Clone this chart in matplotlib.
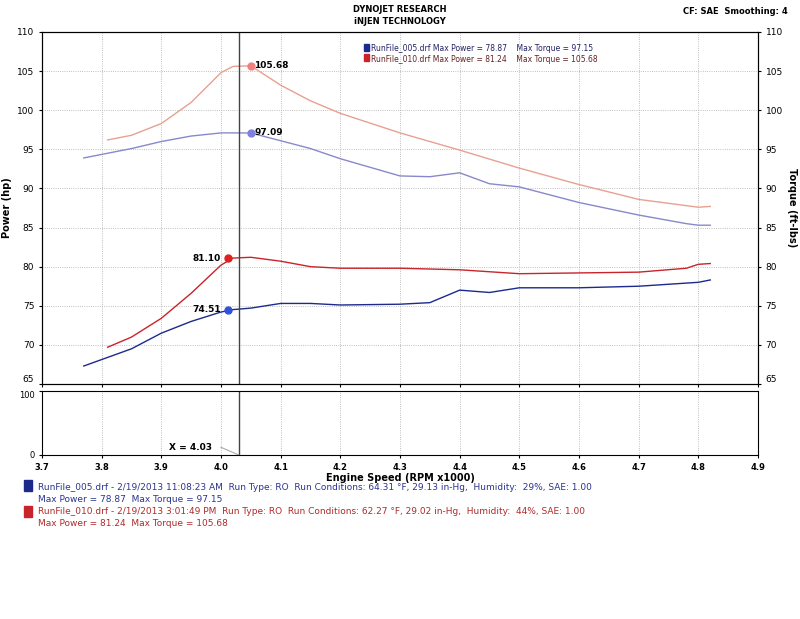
import matplotlib
matplotlib.use("Agg")
import matplotlib.pyplot as plt
import numpy as np

rpm_red = [3.81, 3.85, 3.9, 3.95, 4.0, 4.02, 4.05, 4.1, 4.15, 4.2, 4.3, 4.4, 4.5, 4.6, 4.7, 4.78, 4.8, 4.82]
tq_red = [96.2, 96.8, 98.3, 101.0, 104.8, 105.6, 105.68, 103.2, 101.2, 99.6, 97.1, 94.9, 92.6, 90.5, 88.6, 87.8, 87.6, 87.7]
hp_red = [69.7, 71.0, 73.4, 76.6, 80.2, 81.1, 81.2, 80.7, 80.0, 79.8, 79.8, 79.6, 79.1, 79.2, 79.3, 79.8, 80.3, 80.4]
rpm_blue = [3.77, 3.85, 3.9, 3.95, 4.0, 4.02, 4.05, 4.1, 4.15, 4.2, 4.3, 4.35, 4.4, 4.45, 4.5, 4.6, 4.7, 4.78, 4.8, 4.82]
tq_blue = [93.9, 95.1, 96.0, 96.7, 97.1, 97.1, 97.09, 96.1, 95.1, 93.8, 91.6, 91.5, 92.0, 90.6, 90.2, 88.2, 86.6, 85.5, 85.3, 85.3]
hp_blue = [67.3, 69.5, 71.5, 73.0, 74.2, 74.51, 74.7, 75.3, 75.3, 75.1, 75.2, 75.4, 77.0, 76.7, 77.3, 77.3, 77.5, 77.9, 78.0, 78.3]

RED = "#c8242b"; LRED = "#e8a090"; BLUE = "#1c2a8c"; LBLUE = "#8888cc"

fig = plt.figure(figsize=(8, 6.19), dpi=100)
ax = fig.add_axes([42/800, 1-384/619, 716/800, 352/619])
ax.plot(rpm_red, tq_red, color=LRED, lw=1)
ax.plot(rpm_blue, tq_blue, color=LBLUE, lw=1)
ax.plot(rpm_red, hp_red, color=RED, lw=1)
ax.plot(rpm_blue, hp_blue, color=BLUE, lw=1)
ax.set_xlim(3.7, 4.9); ax.set_ylim(65, 110)
ax.axvline(4.03, color="#444444", lw=1)
for x, y, c, t, ha, dx in [(4.05, 105.68, "#f08080", "105.68", "left", 0.006),
                           (4.05, 97.09, "#8080e0", "97.09", "left", 0.006),
                           (4.012, 81.10, "#e02020", "81.10", "right", -0.012),
                           (4.012, 74.51, "#3050e0", "74.51", "right", -0.012)]:
    ax.plot(x, y, "o", color=c, ms=5)
    ax.text(x+dx, y, t, fontsize=6.5, fontweight="bold", ha=ha, va="center")
ax.set_xticks(np.arange(3.7, 4.91, 0.1)); ax.set_xticklabels([])
ax.set_yticks(range(65, 111, 5))
ax.tick_params(labelsize=6.5, length=2)
ax.grid(True, ls=":", color="#aaaaaa", lw=0.6)
ax.set_ylabel("Power (hp)", fontsize=7, fontweight="bold")
ax2 = ax.twinx(); ax2.set_ylim(65, 110); ax2.set_yticks(range(65, 111, 5))
ax2.tick_params(labelsize=6.5, length=2)
ax2.set_ylabel("Torque (ft-lbs)", fontsize=7, fontweight="bold", rotation=270, labelpad=10)
ax.text(0.46, 0.945, "RunFile_005.drf Max Power = 78.87    Max Torque = 97.15", transform=ax.transAxes, fontsize=5.5, color="#222266")
ax.text(0.46, 0.915, "RunFile_010.drf Max Power = 81.24    Max Torque = 105.68", transform=ax.transAxes, fontsize=5.5, color="#662222")
ax.add_patch(plt.Rectangle((0.45, 0.947), 0.007, 0.02, transform=ax.transAxes, color=BLUE))
ax.add_patch(plt.Rectangle((0.45, 0.917), 0.007, 0.02, transform=ax.transAxes, color=RED))
for lab in ax.get_yticklabels() + ax2.get_yticklabels():
    if lab.get_text() == "65":
        lab.set_va("bottom")

bx = fig.add_axes([42/800, 1-455/619, 716/800, 64/619])
bx.set_xlim(3.7, 4.9); bx.set_ylim(0, 100)
bx.set_xticks(np.arange(3.7, 4.91, 0.1))
bx.set_xticklabels([f"{v:.1f}" for v in np.arange(3.7, 4.91, 0.1)], fontsize=6, fontweight="bold")
bx.set_yticks([0, 100]); bx.tick_params(labelsize=6, length=2)
bx.get_yticklabels()[1].set_va("top")
bx.grid(True, axis="x", ls=":", color="#aaaaaa", lw=0.6)
bx.axvline(4.03, color="#444444", lw=1)
bx.plot([4.0, 4.03], [12, 0], color="#aaaaaa", lw=0.8)
bx.text(3.985, 12, "X = 4.03", fontsize=6.5, fontweight="bold", ha="right", va="center")
bx.set_xlabel("Engine Speed (RPM x1000)", fontsize=7, fontweight="bold", labelpad=1)

fig.text(0.5, 1-12/619, "DYNOJET RESEARCH", fontsize=6, fontweight="bold", ha="center")
fig.text(0.5, 1-24/619, "iNJEN TECHNOLOGY", fontsize=6, fontweight="bold", ha="center")
fig.text(0.985, 1-14/619, "CF: SAE  Smoothing: 4", fontsize=6, fontweight="bold", ha="right")

fig.patches.append(plt.Rectangle((24/800, 1-491/619), 8/800, 11/619, transform=fig.transFigure, color=BLUE))
fig.patches.append(plt.Rectangle((24/800, 1-517/619), 8/800, 11/619, transform=fig.transFigure, color=RED))
fig.text(38/800, 1-487/619, "RunFile_005.drf - 2/19/2013 11:08:23 AM  Run Type: RO  Run Conditions: 64.31 °F, 29.13 in-Hg,  Humidity:  29%, SAE: 1.00", fontsize=6.5, color="#2a3590", va="center")
fig.text(38/800, 1-499/619, "Max Power = 78.87  Max Torque = 97.15", fontsize=6.5, color="#2a3590", va="center")
fig.text(38/800, 1-512/619, "RunFile_010.drf - 2/19/2013 3:01:49 PM  Run Type: RO  Run Conditions: 62.27 °F, 29.02 in-Hg,  Humidity:  44%, SAE: 1.00", fontsize=6.5, color="#b02a2a", va="center")
fig.text(38/800, 1-524/619, "Max Power = 81.24  Max Torque = 105.68", fontsize=6.5, color="#b02a2a", va="center")
fig.savefig("out.png", dpi=100)
